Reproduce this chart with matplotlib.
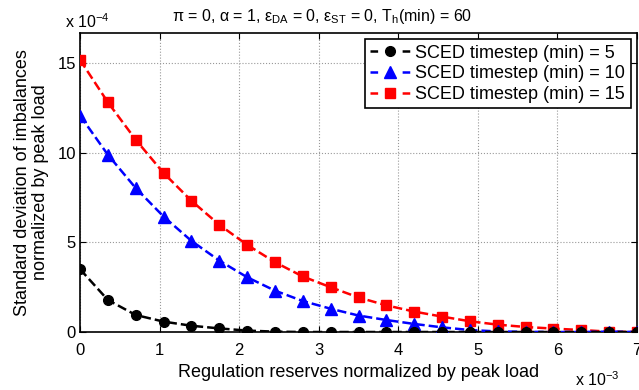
import numpy as np
import matplotlib
matplotlib.use('Agg')
import matplotlib.pyplot as plt

plt.rcParams['font.family'] = ['Liberation Sans', 'DejaVu Sans']
plt.rcParams['mathtext.fontset'] = 'custom'
plt.rcParams['mathtext.rm'] = 'Liberation Sans'
plt.rcParams['mathtext.it'] = 'Liberation Sans'
fonts = 12

# regulation reserves (x 1e-3)
reserves = [0, 0.35, 0.7, 1.05, 1.4, 1.75, 2.1, 2.45, 2.8, 3.15, 3.5,
            3.85, 4.2, 4.55, 4.9, 5.25, 5.6, 5.95, 6.3, 6.65, 7.0]
# std of imbalances (x 1e-4)
std_5 = [3.51, 1.79, 0.95, 0.58, 0.35, 0.20, 0.08, 0.02, 0.0, 0.0, 0.0,
         0.0, 0.0, 0.0, 0.0, 0.0, 0.0, 0.0, 0.0, 0.0, 0.0]
std_10 = [12.09, 9.90, 8.04, 6.45, 5.09, 3.99, 3.06, 2.31, 1.73, 1.30, 0.92,
          0.67, 0.45, 0.26, 0.11, 0.03, 0.01, 0.0, 0.0, 0.02, 0.0]
std_15 = [15.2, 12.83, 10.74, 8.88, 7.33, 5.99, 4.87, 3.90, 3.10, 2.50, 1.93,
          1.49, 1.14, 0.86, 0.60, 0.41, 0.28, 0.19, 0.11, 0.02, 0.0]

fig = plt.figure(figsize=(6.39, 3.9), dpi=100)
ax = fig.add_axes([80/639, 1-332/390, 557/639, 299/390])

ax.plot(reserves, std_5, 'k--', marker='o', markersize=7, linewidth=1.8,
        label='SCED timestep (min) = 5', zorder=5)
ax.plot(reserves, std_10, 'b--', marker='^', markersize=8, linewidth=1.8,
        label='SCED timestep (min) = 10', zorder=4)
ax.plot(reserves, std_15, 'r--', marker='s', markersize=7, linewidth=1.8,
        label='SCED timestep (min) = 15', zorder=3)

ax.set_xlim(0, 7)
ax.set_ylim(0, 16.7)
ax.set_xticks(range(0, 8))
ax.set_yticks([0, 5, 10, 15])
ax.tick_params(direction='in', top=True, right=True, labelsize=fonts, length=4, pad=3)
ax.tick_params(axis='x', pad=8)
ax.grid(True, linestyle=':', color='#999999', linewidth=0.8)
for s in ax.spines.values():
    s.set_linewidth(1.2)

ax.set_xlabel('Regulation reserves normalized by peak load', fontsize=fonts + 1, labelpad=4)
ax.set_ylabel('Standard deviation of imbalances\nnormalized by peak load', fontsize=fonts + 1,
              labelpad=6, linespacing=1.05)

ax.text(0.435, 1.025, r'π = 0, α = 1, ε$_{\mathrm{DA}}$ = 0, ε$_{\mathrm{ST}}$ = 0, T$_{\mathrm{h}}$(min) = 60',
        transform=ax.transAxes, ha='center', va='bottom', fontsize=fonts - 0.5)
fig.text(65/639, 1-22/390, r'x 10$^{-4}$', fontsize=fonts - 0.5, va='center', ha='left')
fig.text(575/639, 1-380/390, r'x 10$^{-3}$', fontsize=fonts - 0.5, va='center', ha='left')

leg = ax.legend(loc='upper right', fontsize=fonts + 1, fancybox=False, framealpha=1,
                edgecolor='k', handlelength=2.2, handletextpad=0.3,
                borderpad=0.3, labelspacing=0.2, borderaxespad=0.35)
leg.get_frame().set_linewidth(1.2)
# matlab-like legend handle: dash, marker, dash
for ln in leg.get_lines():
    if ln.get_linestyle() != 'None':
        ln.set_linestyle((0, (3.05, 9.8)))

plt.savefig('out.png', dpi=100)
